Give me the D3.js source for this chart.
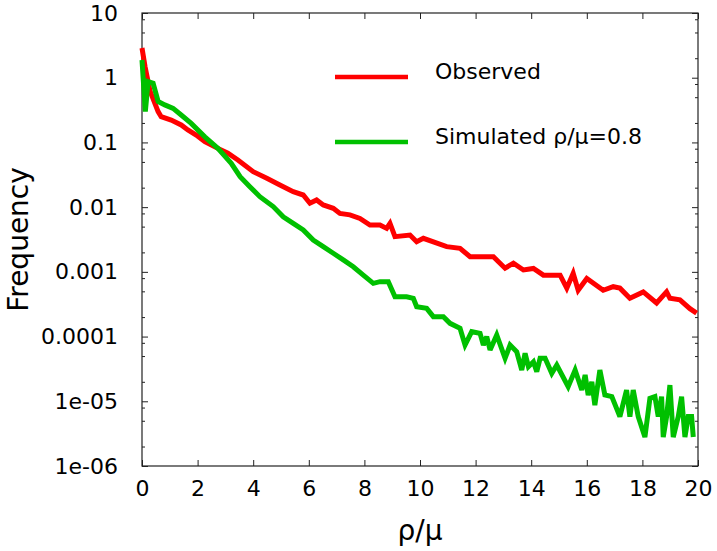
<!DOCTYPE html>
<html>
<head>
<meta charset="utf-8">
<script src="https://cdn.jsdelivr.net/npm/d3@7"></script>
<style>
  html, body { margin: 0; padding: 0; background: #fff; }
  svg { display: block; font-family: "DejaVu Sans", sans-serif; }
</style>
</head>
<body>
<svg id="chart" width="717" height="551"></svg>
<script>
// ---- data ----
const obsX = [0,0.11,0.29,0.58,0.69,1.05,1.41,1.65,1.95,2.26,2.73,3.09,3.45,4.0,4.49,4.96,5.44,5.80,6.04,6.28,6.52,6.88,7.12,7.48,7.84,8.20,8.56,8.80,8.92,9.10,9.64,9.88,10.12,10.96,11.44,11.80,12.64,13.06,13.36,13.72,14.08,14.44,15.04,15.28,15.51,15.69,16.0,16.59,16.95,17.19,17.55,18.03,18.51,18.87,18.99,19.35,19.71,19.95];
const obsY = [2.88,1.48,0.62,0.30,0.25,0.222,0.186,0.156,0.130,0.103,0.081,0.068,0.0535,0.0353,0.0279,0.022,0.0173,0.0154,0.0115,0.0129,0.0108,0.0096,0.0080,0.0076,0.0067,0.0053,0.0053,0.0047,0.0056,0.0035,0.0037,0.00292,0.00330,0.00245,0.00231,0.00171,0.00171,0.00114,0.00136,0.00107,0.00113,0.00089,0.00089,0.00056,0.00095,0.00052,0.00079,0.00052,0.00059,0.00056,0.00039,0.00049,0.00033,0.00049,0.00039,0.00037,0.00027,0.00023];
const simX = [0,0.12,0.22,0.40,0.58,0.82,1.12,1.41,1.77,2.26,2.73,3.21,3.53,3.88,4.24,4.72,5.08,5.44,5.80,6.16,6.52,6.88,7.24,7.60,7.96,8.32,8.56,8.86,9.10,9.52,9.76,9.88,10.24,10.48,10.84,11.08,11.44,11.62,11.86,12.16,12.28,12.40,12.52,12.76,13.06,13.24,13.48,13.66,13.78,13.90,14.08,14.20,14.32,14.50,14.74,14.92,15.33,15.58,15.82,15.94,16.05,16.18,16.29,16.47,16.65,16.90,17.19,17.43,17.55,17.67,17.85,18.09,18.27,18.45,18.57,18.69,18.75,18.87,18.99,19.11,19.29,19.41,19.53,19.65,19.77,19.83];
const simY = [1.88,0.30,0.87,0.82,0.43,0.38,0.336,0.265,0.197,0.122,0.081,0.0475,0.0295,0.0207,0.0145,0.0102,0.0071,0.0056,0.00443,0.0031,0.00245,0.00194,0.00153,0.0012,0.00089,0.000665,0.000705,0.000705,0.000413,0.000413,0.00039,0.000289,0.000273,0.000203,0.000203,0.00016,0.000134,0.000074,0.000119,0.000112,0.000074,0.0000995,0.000062,0.000106,0.0000461,0.000074,0.0000583,0.0000304,0.0000551,0.0000342,0.0000408,0.0000286,0.0000461,0.0000461,0.000027,0.0000363,0.0000168,0.0000304,0.0000149,0.0000255,0.0000125,0.00002,0.0000087,0.0000304,0.0000125,0.0000118,0.0000058,0.0000149,0.0000058,0.0000149,0.0000058,0.0000028,0.0000111,0.0000118,0.0000058,0.0000118,0.0000028,0.0000058,0.0000178,0.0000028,0.0000058,0.0000118,0.0000028,0.0000058,0.0000058,0.0000028];
const xTicks = [0,2,4,6,8,10,12,14,16,18,20];
const yTicks = [10,1,0.1,0.01,0.001,0.0001,1e-5,1e-6];
const yTickLabels = ["10","1","0.1","0.01","0.001","0.0001","1e-05","1e-06"];
const seriesNames = ["Observed","Simulated \u03c1/\u03bc=0.8"];
const seriesColors = ["#ff0000","#00c000"];
const xTitle = "\u03c1/\u03bc";
const yTitle = "Frequency";

// ---- layout ----
const L = 142, R = 698, T = 13, B = 466;
const svg = d3.select("#chart");
const x = d3.scaleLinear().domain([0,20]).range([L,R]);
const y = d3.scaleLog().domain([1e-6,10]).range([B,T]);

// minor y ticks at 2,5,8 per decade
const yMinor = [];
for (let e = -6; e < 1; e++) [2,5,8].forEach(m => yMinor.push(m*Math.pow(10,e)));

const axisColor = "#222";
const fs = 22;

const gB = svg.append("g").attr("transform",`translate(0,${B})`)
  .call(d3.axisBottom(x).tickValues(xTicks).tickSizeInner(-6).tickSizeOuter(0).tickPadding(14).tickFormat(d3.format("d")));
const gT = svg.append("g").attr("transform",`translate(0,${T})`)
  .call(d3.axisTop(x).tickValues(xTicks).tickSizeInner(-6).tickSizeOuter(0).tickFormat(""));
const gL = svg.append("g").attr("transform",`translate(${L},0)`)
  .call(d3.axisLeft(y).tickValues(yTicks).tickSizeInner(-6).tickSizeOuter(0).tickPadding(24).tickFormat((d,i)=>yTickLabels[i]));
const gR = svg.append("g").attr("transform",`translate(${R},0)`)
  .call(d3.axisRight(y).tickValues(yTicks).tickSizeInner(-6).tickSizeOuter(0).tickFormat(""));
const gLm = svg.append("g").attr("transform",`translate(${L},0)`)
  .call(d3.axisLeft(y).tickValues(yMinor).tickSizeInner(-3).tickSizeOuter(0).tickFormat(""));
const gRm = svg.append("g").attr("transform",`translate(${R},0)`)
  .call(d3.axisRight(y).tickValues(yMinor).tickSizeInner(-3).tickSizeOuter(0).tickFormat(""));

[gB,gT,gL,gR,gLm,gRm].forEach(g => {
  g.select(".domain").remove();
  g.selectAll("line").attr("stroke",axisColor).attr("stroke-width",1);
  g.selectAll("text").attr("font-family","DejaVu Sans, sans-serif").attr("font-size",fs).attr("fill","#000");
});

svg.append("rect").attr("x",L).attr("y",T).attr("width",R-L).attr("height",B-T)
  .attr("fill","none").attr("stroke",axisColor).attr("stroke-width",1.2);

const line = d3.line().x(d=>x(d[0])).y(d=>y(d[1]));
const series = [d3.zip(obsX,obsY), d3.zip(simX,simY)];
svg.append("g").selectAll("path").data(series).join("path")
  .attr("d", line).attr("fill","none")
  .attr("stroke",(d,i)=>seriesColors[i]).attr("stroke-width",5)
  .attr("stroke-linejoin","miter").attr("stroke-miterlimit",3);

const leg = svg.append("g");
seriesNames.forEach((n,i) => {
  const ly = 77 + i*65;
  leg.append("line").attr("x1",335).attr("x2",408).attr("y1",ly).attr("y2",ly)
    .attr("stroke",seriesColors[i]).attr("stroke-width",4.5);
  leg.append("text").attr("x",435).attr("y",ly+2).attr("font-size",fs).attr("fill","#000")
    .text(n);
});

svg.append("text").attr("x",(L+R)/2).attr("y",540).attr("text-anchor","middle")
  .attr("font-size",28).attr("fill","#000").text(xTitle);
svg.append("text").attr("transform",`translate(28,${(T+B)/2}) rotate(-90)`)
  .attr("text-anchor","middle").attr("font-size",28).attr("fill","#000").text(yTitle);
</script>
</body>
</html>
